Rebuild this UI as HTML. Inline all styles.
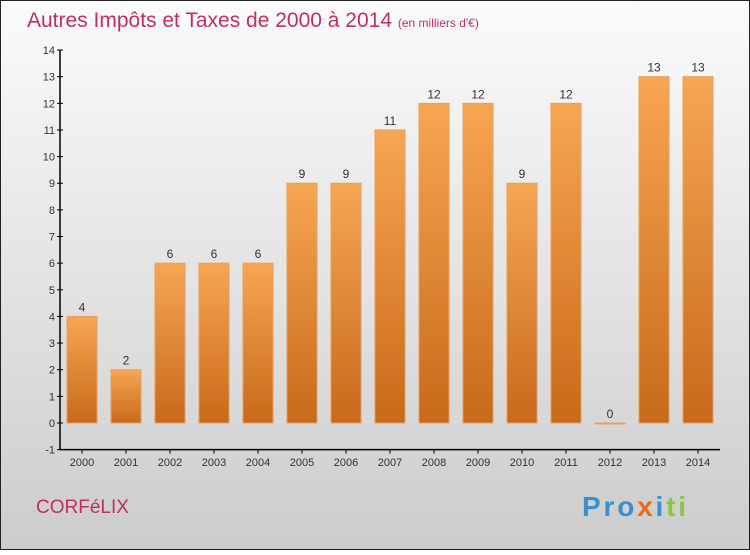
<!DOCTYPE html>
<html><head><meta charset="utf-8"><style>
body{margin:0;width:750px;height:550px;overflow:hidden;font-family:"Liberation Sans",sans-serif}
</style></head><body>
<svg width="750" height="550" xmlns="http://www.w3.org/2000/svg">
<defs>
<linearGradient id="bg" x1="0" y1="0" x2="0" y2="1"><stop offset="0" stop-color="#fbfbfb"/><stop offset="1" stop-color="#cccccc"/></linearGradient>
<linearGradient id="bar" x1="0" y1="0" x2="0" y2="1"><stop offset="0" stop-color="#f7a653"/><stop offset="1" stop-color="#c76a1a"/></linearGradient>
</defs>
<rect x="0.5" y="0.5" width="749" height="549" fill="url(#bg)" stroke="#222"/>
<text x="27" y="27" font-size="21" fill="#c0305a">Autres Impôts et Taxes de 2000 à 2014 <tspan font-size="12">(en milliers d'€)</tspan></text>
<g id="plot"></g>
<text x="36" y="513" font-size="19" fill="#c0305a">CORFéLIX</text>
<text x="582" y="516" font-size="28" font-weight="bold" textLength="104"><tspan fill="#3a8fd0">Pro</tspan><tspan fill="#e86b1c">x</tspan><tspan fill="#3a8fd0">i</tspan><tspan fill="#8cc63f">ti</tspan></text>
</svg>
<script>
const categories=["2000","2001","2002","2003","2004","2005","2006","2007","2008","2009","2010","2011","2012","2013","2014"];
const values=[4,2,6,6,6,9,9,11,12,12,9,12,0,13,13];
const yTicks=[-1,0,1,2,3,4,5,6,7,8,9,10,11,12,13,14];
const NS="http://www.w3.org/2000/svg";
const g=document.getElementById('plot');
const y=v=>423-(v)*26.64;
const x=i=>82+i*44;
function el(t,a,txt){const e=document.createElementNS(NS,t);for(const k in a)e.setAttribute(k,a[k]);if(txt!==undefined)e.textContent=txt;g.appendChild(e);return e;}
let e=el('line',{x1:60,y1:y(14),x2:60,y2:y(-1),stroke:'#000','stroke-width':1.5});


e=el('line',{x1:60,y1:y(-1),x2:720,y2:y(-1),stroke:'#000','stroke-width':1.5});


yTicks.forEach(t=>{
 el('line',{x1:57,y1:y(t),x2:63,y2:y(t),stroke:'#000'});
 const l=el('text',{x:55,y:y(t)+4,'font-size':11,fill:'#333','text-anchor':'end'},String(t));
 
 
});
categories.forEach((c,i)=>{
 const v=values[i];
 const top=y(Math.max(v,0)),h=Math.max(Math.abs(y(0)-y(v)),1);
 const r=el('rect',{x:x(i)-15,y:top,width:30,height:h,fill:'url(#bar)',stroke:'#e8a060','stroke-width':1});
 
 
 const vl=el('text',{x:x(i),y:top-5,'font-size':12,fill:'#333','text-anchor':'middle'},String(v));
 
 
 el('line',{x1:x(i),y1:y(-1),x2:x(i),y2:y(-1)+4,stroke:'#000'});
 const xl=el('text',{x:x(i),y:466,'font-size':11,fill:'#333','text-anchor':'middle'},c);
 
 
});
</script>
</body></html>
